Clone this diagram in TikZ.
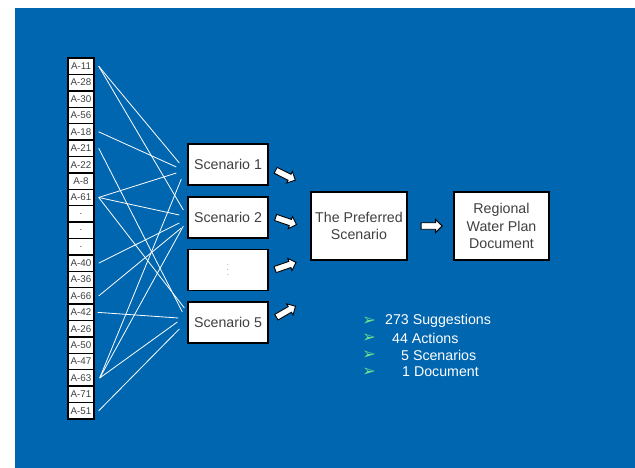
\documentclass[tikz,border=0pt]{standalone}
\usepackage{fontspec}
\setmainfont{Liberation Sans}
\newfontfamily\symfont{DejaVu Sans}
\usetikzlibrary{shapes.arrows}
\definecolor{slideblue}{RGB}{0,102,176}
\definecolor{boxtext}{RGB}{64,64,64}
\definecolor{bulletgreen}{RGB}{110,225,140}
\tikzset{
  item/.style={draw=black, line width=1.4pt, fill=white, minimum width=26pt, minimum height=16.4pt,
    inner sep=0pt, text=boxtext, font=\fontsize{9.8}{10}\selectfont},
  scen/.style={draw=black, line width=1.3pt, fill=white, minimum width=80pt, minimum height=41pt,
    inner sep=0pt, text=boxtext, font=\fontsize{14.2}{17}\selectfont},
  bigbox/.style={draw=black, line width=1.3pt, fill=white, minimum width=96pt, minimum height=68pt,
    inner sep=0pt, text=boxtext, align=center, font=\fontsize{14.2}{17.2}\selectfont},
  blockarrow/.style={single arrow, draw=black, line width=0.9pt, fill=white, inner sep=2.8pt,
    minimum height=22pt, single arrow head extend=3.2pt, single arrow head indent=0pt},
  link/.style={draw=white, line width=0.8pt},
  marker/.style={anchor=center, inner sep=0pt, text=bulletgreen, font=\symfont\fontsize{16}{16}\selectfont},
  bullet/.style={anchor=west, inner sep=0pt, text=white, font=\fontsize{14.2}{17}\selectfont}
}
\begin{document}
\begin{tikzpicture}[x=1pt, y=-1pt]
  \useasboundingbox (0,0) rectangle (635,468);
  \fill[white] (0,0) rectangle (635,468);
  \fill[slideblue] (15,8) rectangle (635,468);

  % column of action codes
  \foreach \lab [count=\i from 0] in {A-11,A-28,A-30,A-56,A-18,A-21,A-22,A-8,A-61,dA,dB,dC,A-40,A-36,A-66,A-42,A-26,A-50,A-47,A-63,A-71,A-51}{
    \node[item] (\lab) at (81, 66.2+16.41*\i) {\ifnum\i=9 .\else\ifnum\i=10 .\else\ifnum\i=11 .\else\lab\fi\fi\fi};
  }

  % scenario boxes
  \node[scen] (s1) at (228,164.5) {Scenario 1};
  \node[scen] (s2) at (228,217.5) {Scenario 2};
  \node[scen, font=\fontsize{6}{5}\selectfont, align=center] (s3) at (228,270) {.\\.\\.};
  \node[scen] (s5) at (228,322.5) {Scenario 5};

  % final steps
  \node[bigbox] (pref) at (359,226) {The Preferred\\Scenario};
  \node[bigbox, minimum width=95pt] (plan) at (501.5,226) {Regional\\Water Plan\\Document};

  % links from actions to scenarios
  \draw[link] ([xshift=4pt]A-11.east) -- ([xshift=-8pt,yshift=1.5pt]s1.west);
  \draw[link] ([xshift=4pt]A-18.east) -- ([xshift=-11pt,yshift=-2.5pt]s1.west);
  \draw[link] ([xshift=4pt]A-61.east) -- ([xshift=-11pt,yshift=-8.5pt]s1.west);
  \draw[link] ([xshift=5pt]A-63.east) -- ([xshift=-6pt,yshift=-14.5pt]s1.west);

  \draw[link] ([xshift=4pt]A-11.east) -- ([xshift=-4pt,yshift=7.5pt]s2.west);
  \draw[link] ([xshift=4pt]A-61.east) -- ([xshift=-8pt,yshift=2.5pt]s2.west);
  \draw[link] ([xshift=4pt]A-40.east) -- ([xshift=-8pt,yshift=-5.5pt]s2.west);
  \draw[link] ([xshift=4pt]A-66.east) -- ([xshift=-6pt,yshift=-10.5pt]s2.west);
  \draw[link] ([xshift=5pt]A-63.east) -- ([xshift=-4pt,yshift=-8.5pt]s2.west);

  \draw[link] ([xshift=4pt]A-61.east) -- ([xshift=-3pt,yshift=14.5pt]s5.west);
  \draw[link] ([xshift=4pt]A-21.east) -- ([xshift=-5pt,yshift=10.5pt]s5.west);
  \draw[link] ([xshift=3pt]A-42.east) -- ([xshift=-9pt,yshift=4.5pt]s5.west);
  \draw[link] ([xshift=5pt]A-63.east) -- ([xshift=-10pt,yshift=0.5pt]s5.west);
  \draw[link] ([xshift=4pt]A-51.east) -- ([xshift=-8pt,yshift=-6.5pt]s5.west);

  % block arrows towards the preferred scenario
  \node[blockarrow, rotate=-26.6] (b1) at (284,174.5) {};
  \node[blockarrow, rotate=-19] (b2) at (284.5,220.5) {};
  \node[blockarrow, rotate=19] (b3) at (284,266.5) {};
  \node[blockarrow, rotate=30] (b5) at (284.5,312.5) {};
  \node[blockarrow, minimum height=21pt] (b6) at (430,226) {};

  % summary list
  \foreach \y/\x/\t [count=\k] in {321/385/273 Suggestions, 338/392/44 Actions, 355/401/5 Scenarios, 372/402/1 Document}{
    \node[marker] (m\k) at (369,\y) {➢};
    \node[bullet] (t\k) at (\x,\y) {\t};
  }
\end{tikzpicture}
\end{document}
